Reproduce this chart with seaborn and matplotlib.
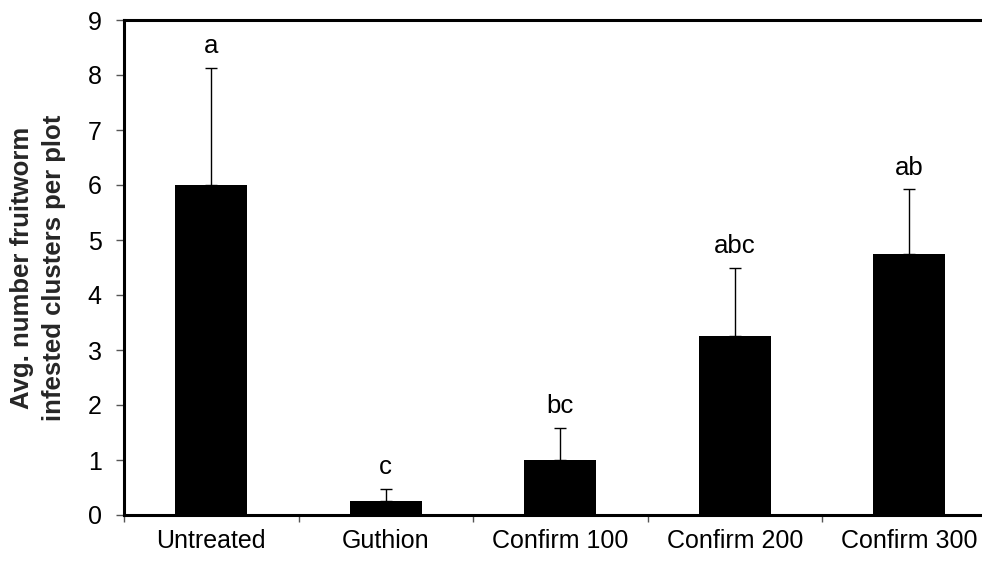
import matplotlib
matplotlib.use("Agg")
import matplotlib.pyplot as plt
import seaborn as sns
import pandas as pd
import numpy as np
from matplotlib.ticker import FixedLocator

categories = ["Untreated", "Guthion", "Confirm 100", "Confirm 200", "Confirm 300"]
means = [6.0, 0.25, 1.0, 3.25, 4.75]
errors = [2.13, 0.23, 0.58, 1.24, 1.17]
letters = ["a", "c", "bc", "abc", "ab"]
y_ticks = [0, 1, 2, 3, 4, 5, 6, 7, 8, 9]
y_label = "Avg. number fruitworm\ninfested clusters per plot"

sns.set_theme(style="white")
plt.rcParams["font.family"] = ["Liberation Sans", "DejaVu Sans"]

df = pd.DataFrame({"Treatment": categories, "Value": means})

fig = plt.figure(figsize=(9.82, 5.64), dpi=100)
ax = fig.add_axes([124 / 982, 49 / 564, 872.5 / 982, 495 / 564])

sns.barplot(data=df, x="Treatment", y="Value", color="black", saturation=1,
            width=0.41, errorbar=None, ax=ax, edgecolor="black", linewidth=0)

xpos = np.arange(len(categories))
ax.errorbar(xpos, means, yerr=[np.zeros(len(means)), errors], fmt="none",
            ecolor="black", elinewidth=1.0, capsize=4.3, capthick=1.0)

for x, m, e, lab in zip(xpos, means, errors, letters):
    ax.text(x, m + e + 0.27, lab, ha="center", va="baseline", fontsize=18.5, color="black")

ax.set_xlim(-0.5, len(categories) - 0.5)
ax.set_ylim(0, 9)
ax.set_yticks(y_ticks)
ax.set_yticklabels([str(t) for t in y_ticks], fontsize=18)

ax.set_xticks(xpos)
ax.set_xticklabels(categories, fontsize=18)
ax.xaxis.set_minor_locator(FixedLocator(np.arange(-0.5, len(categories), 1.0)))
ax.tick_params(axis="x", which="major", length=0, pad=10, colors="black")
ax.tick_params(axis="x", which="minor", length=5, width=1, color="#555555", direction="out", bottom=True)
ax.tick_params(axis="y", which="major", length=6, width=1, color="#555555", direction="out", left=True, pad=10, labelcolor="black")

for s in ["left", "bottom", "top", "right"]:
    ax.spines[s].set_visible(True)
    ax.spines[s].set_color("black")
    ax.spines[s].set_linewidth(2.2)

ax.set_xlabel("")
ax.set_ylabel(y_label, fontsize=18.5, fontweight="bold", linespacing=1.45)
ax.yaxis.label.set_va("center")
ax.yaxis.set_label_coords((38 - 124) / 872.5, 0.5)

fig.savefig("out.png", dpi=100)
